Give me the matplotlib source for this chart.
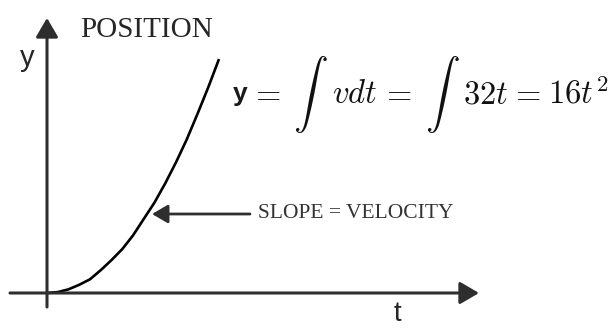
import matplotlib
matplotlib.use("Agg")
import matplotlib.pyplot as plt
import numpy as np

# 位置曲線
t_vals = [0, 0.25, 0.5, 0.75, 1.0, 1.25, 1.5, 1.75, 2.0, 2.25, 2.5, 2.75, 3.0, 3.25, 3.5, 3.75, 4.0]
y_vals = [0, 1, 4, 9, 15, 25, 36, 48, 63, 81, 99, 120, 143, 168, 196, 225, 256]

AXIS_COLOR = "#2e2e2e"
TEXT_COLOR = "#262626"

plt.rcParams["mathtext.fontset"] = "cm"

# ピクセル -> データ座標 (原点 = (47, 293), 43 px/t, 0.914 px/y)
X0, Y0, SX, SY = 47, 293, 43.0, 0.914


def px_t(x):
    return (x - X0) / SX


def px_y(y):
    return (Y0 - y) / SY


fig = plt.figure(figsize=(6.16, 3.28), dpi=100)
fig.patch.set_facecolor("white")
ax = fig.add_axes([0, 0, 1, 1])
ax.set_xlim(px_t(0), px_t(616))
ax.set_ylim(px_y(328), px_y(0))
ax.axis("off")

# 軸
arrow_kw = dict(arrowstyle="-|>,head_length=0.58,head_width=0.34", mutation_scale=20,
                lw=2.2, color=AXIS_COLOR, shrinkA=0, shrinkB=0)
ax.annotate("", xy=(px_t(479), 0), xytext=(px_t(10), 0), arrowprops=arrow_kw)
ax.annotate("", xy=(0, px_y(18)), xytext=(0, px_y(307)), arrowprops=arrow_kw)

# 曲線
ax.plot(t_vals, y_vals, color="black", lw=1.9, solid_capstyle="butt")

# 傾き矢印
slope_kw = dict(arrowstyle="-|>,head_length=0.48,head_width=0.28", mutation_scale=20,
                lw=2.0, color=AXIS_COLOR, shrinkA=0, shrinkB=0)
ax.annotate("", xy=(px_t(152), px_y(214)), xytext=(px_t(250), px_y(214)), arrowprops=slope_kw)

# テキスト
ax.text(px_t(80), px_y(37), "POSITION", fontsize=20.9, family="Liberation Serif",
        color=TEXT_COLOR, ha="left", va="baseline")
ax.text(px_t(258), px_y(214), "SLOPE = VELOCITY", fontsize=15.5, family="Liberation Serif",
        color="#333333", ha="left", va="center")
ax.text(px_t(27.5), px_y(66), "y", fontsize=21, family="Liberation Sans",
        color=TEXT_COLOR, ha="center", va="baseline")
ax.text(px_t(397.5), px_y(321), "t", fontsize=20, family="Liberation Sans",
        color=TEXT_COLOR, ha="center", va="baseline")

# 式 y = ∫ vdt = ∫ 32t = 16t^2
BASE = px_y(103)
INT_BASE = px_y(106.5)
ax.text(px_t(233), px_y(101), "y", fontsize=19, family="Liberation Sans", fontweight="bold",
        color="#1a1a1a", ha="left", va="baseline")
eq_parts = [(250, r"$=$", 23.5, BASE), (293, r"$\int$", 25, INT_BASE),
            (332, r"$vdt$", 23.5, BASE), (381, r"$=$", 23.5, BASE),
            (425, r"$\int$", 25, INT_BASE), (463, r"$32t$", 23.5, BASE),
            (510, r"$=$", 23.5, BASE), (548, r"$16t^2$", 23.5, BASE)]
for x, s, fs, yb in eq_parts:
    ax.text(px_t(x), yb, s, fontsize=fs, color="#111111", ha="left", va="baseline")

fig.savefig("out.png", dpi=100)
